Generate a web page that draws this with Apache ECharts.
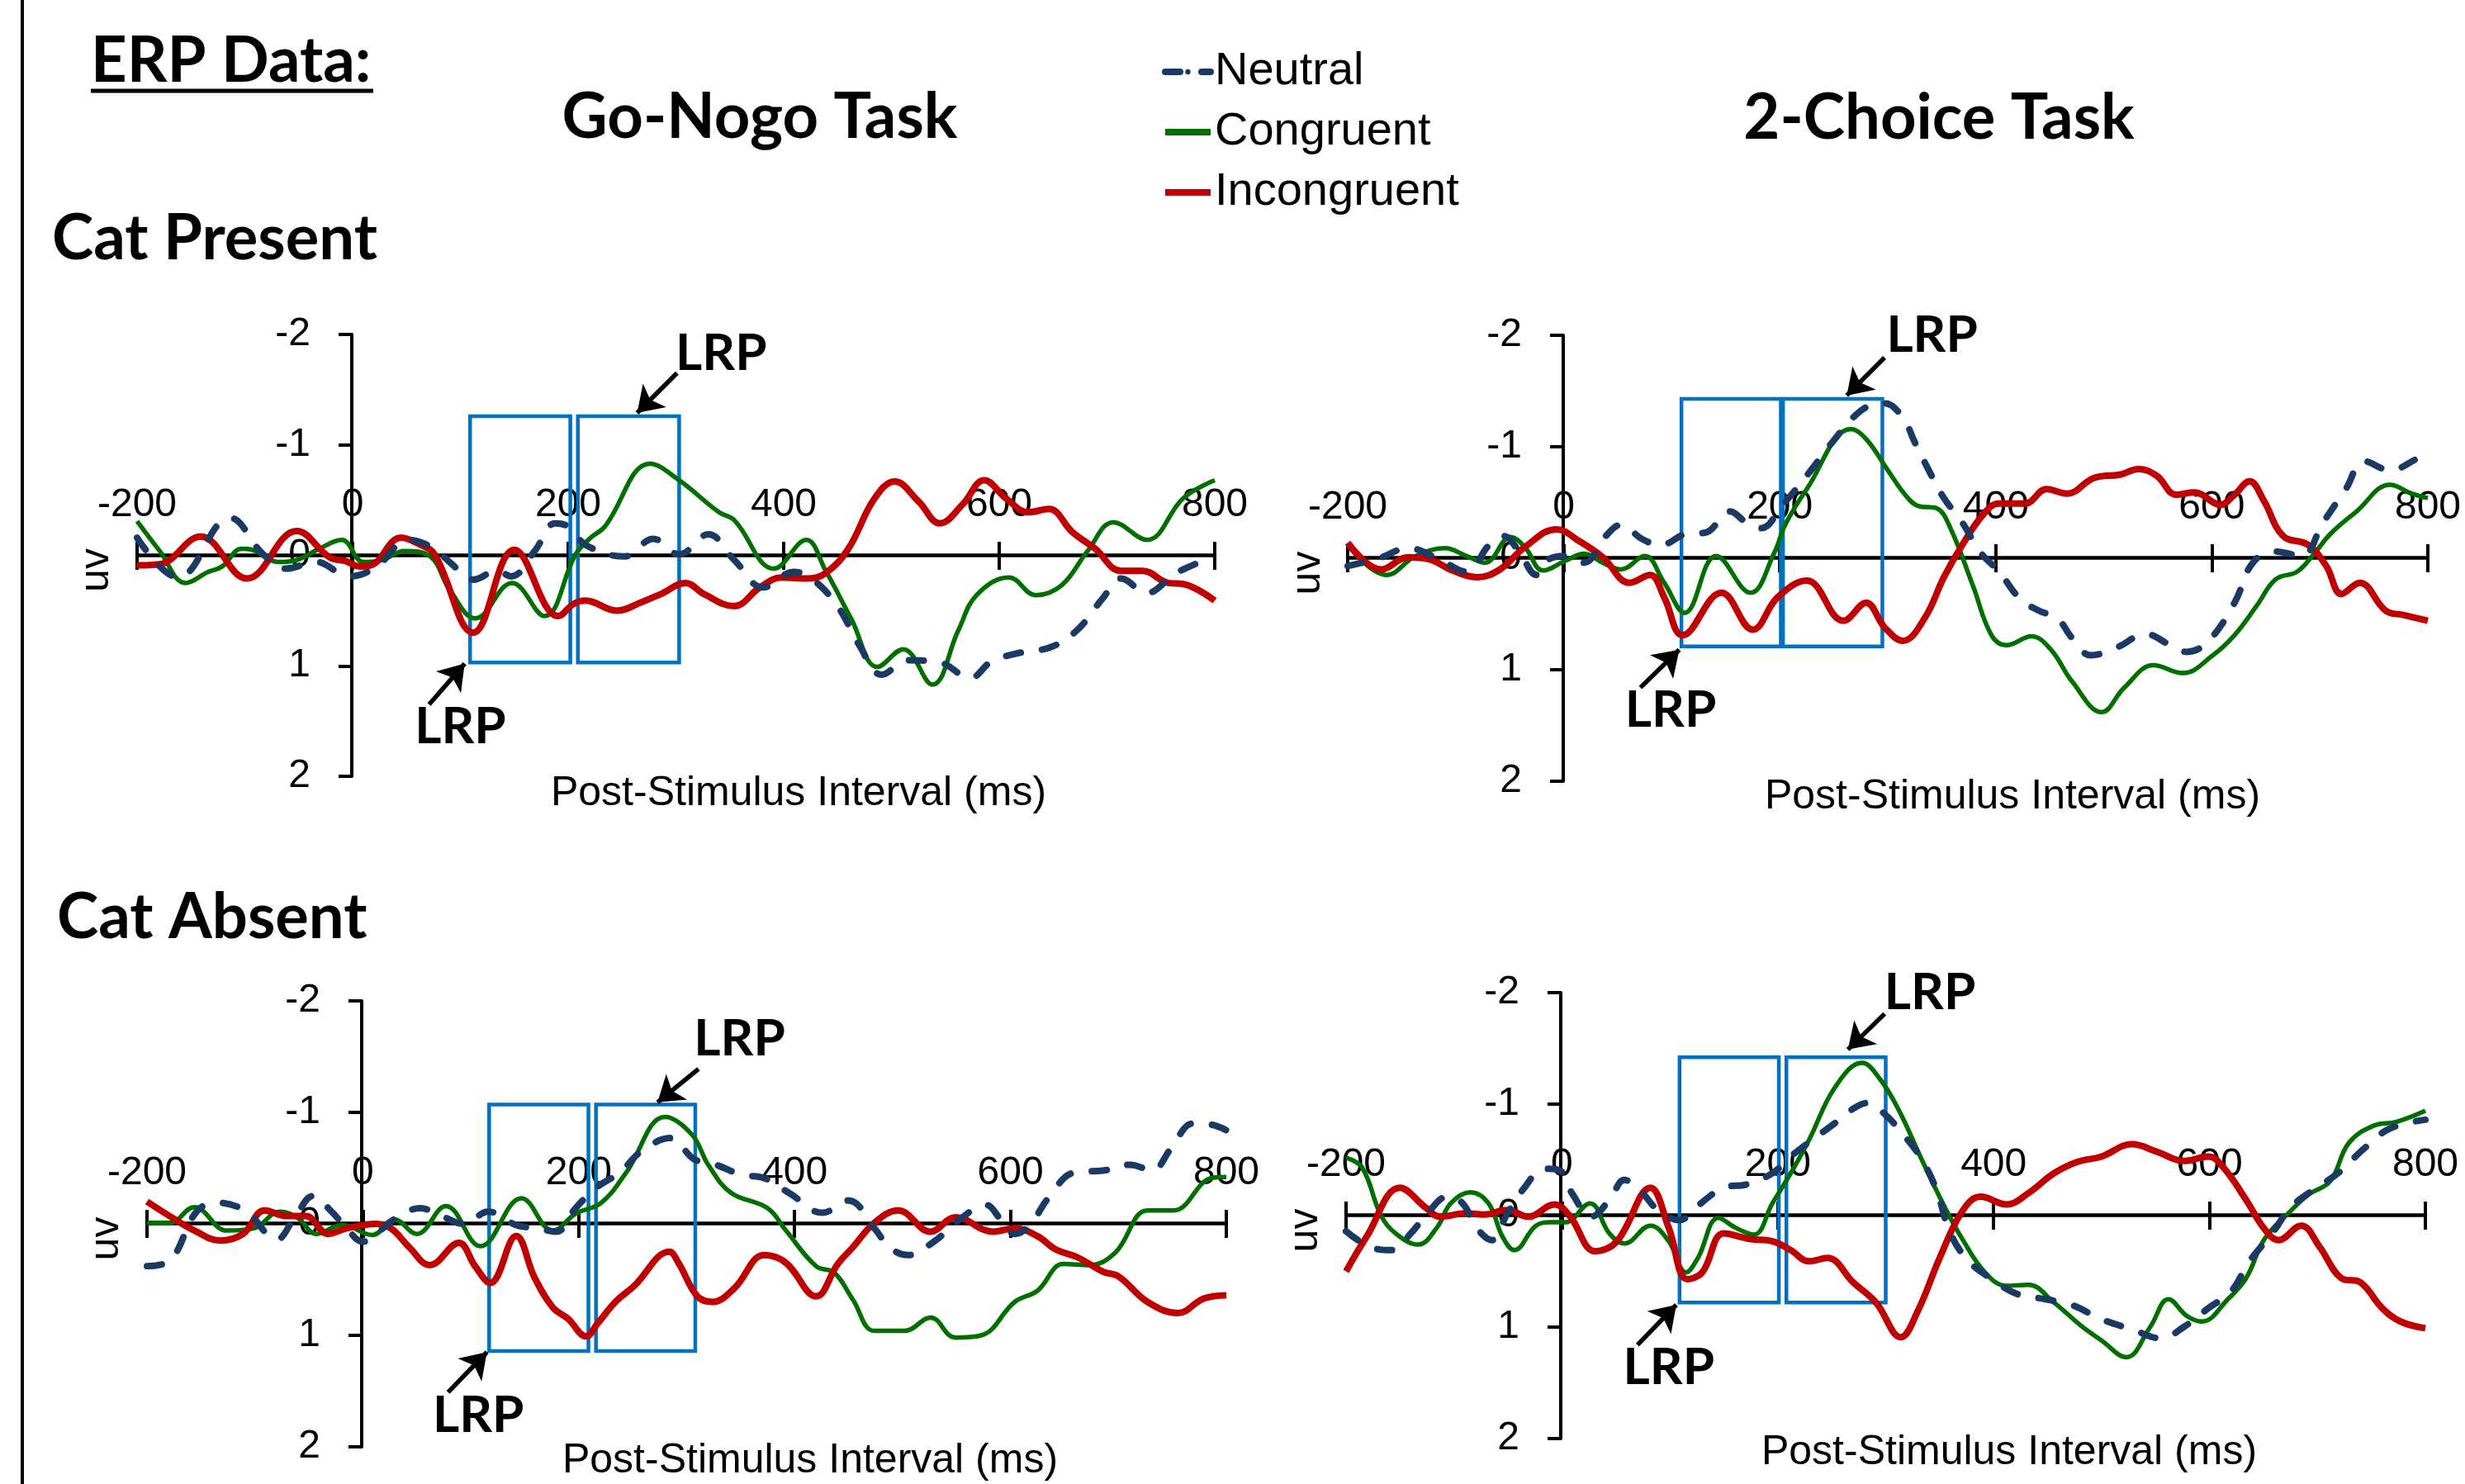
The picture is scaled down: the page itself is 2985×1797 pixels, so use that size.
<!DOCTYPE html>
<html>
<head>
<meta charset="utf-8">
<script src="https://cdn.jsdelivr.net/npm/echarts@6/dist/echarts.min.js"></script>
<style>
  html, body { margin: 0; padding: 0; background: #fff; }
  #chart { width: 2985px; height: 1797px; }
</style>
</head>
<body>
<div id="chart"></div>
<script>
// time (ms) and amplitude (uV), kept at the turning points
const xTicks = [-200, 0, 200, 400, 600, 800];
const yTicks = [-2, -1, 0, 1, 2];
const legendNames = ['Neutral', 'Congruent', 'Incongruent'];

// Go-Nogo task, cat present
const p1Neutral = [[-200,-0.16],[-162,0.20],[-114,-0.34],[-83,-0.01],[-62,0.12],[-34,0.06],[-3,0.19],[21,0.11],[52,-0.14],[76,-0.06],[90,0.06],[112,0.22],[134,0.14],[147,0.19],[169,-0.04],[188,-0.29],[200,-0.26],[217,-0.09],[252,0.01],[279,-0.15],[303,-0.01],[330,-0.19],[354,0.04],[381,0.29],[409,0.15],[426,0.21],[450,0.46],[470,0.81],[491,1.08],[515,0.95],[545,0.97],[573,1.11],[593,0.96],[620,0.88],[648,0.83],[672,0.68],[696,0.39],[713,0.21],[737,0.34],[764,0.16],[800,0.01]];
const p1Congruent = [[-200,-0.31],[-179,-0.04],[-155,0.25],[-134,0.15],[-121,0.10],[-103,-0.06],[-93,-0.05],[-69,0.06],[-55,0.05],[-31,-0.06],[-10,-0.14],[10,0.06],[28,0.04],[48,-0.04],[72,0.01],[90,0.31],[114,0.57],[148,0.25],[178,0.55],[207,-0.01],[221,-0.16],[234,-0.26],[276,-0.83],[303,-0.68],[340,-0.39],[354,-0.32],[391,0.12],[421,-0.14],[439,0.14],[463,0.58],[487,1.01],[511,0.85],[538,1.17],[562,0.68],[579,0.36],[609,0.20],[634,0.36],[658,0.27],[682,-0.04],[706,-0.30],[737,-0.14],[771,-0.52],[800,-0.68]];
const p1Incongruent = [[-200,0.09],[-179,0.08],[-141,-0.17],[-98,0.21],[-52,-0.22],[-21,0.02],[-7,0.05],[7,0.10],[17,0.09],[45,-0.16],[62,-0.10],[76,-0.01],[112,0.70],[150,-0.05],[191,0.55],[205,0.44],[216,0.41],[245,0.50],[269,0.42],[286,0.35],[309,0.25],[326,0.35],[354,0.46],[378,0.29],[398,0.20],[422,0.21],[439,0.16],[460,-0.06],[484,-0.51],[503,-0.67],[525,-0.49],[545,-0.29],[566,-0.46],[586,-0.68],[607,-0.51],[627,-0.39],[646,-0.42],[668,-0.21],[689,-0.06],[713,0.14],[733,0.14],[757,0.25],[771,0.26],[800,0.41]];
const p1Boxes = [[[109,-1.26],[202,0.97]], [[209,-1.26],[303,0.97]]];
const p1Arrows = [[[301,-1.65],[264,-1.29]], [[71,1.35],[104,0.98]]];
const p1Labels = [[342,-1.83], [100,1.55]];

// 2-Choice task, cat present
const p2Neutral = [[-200,0.07],[-171,0.00],[-144,-0.09],[-117,0.00],[-90,0.12],[-69,-0.12],[-56,-0.20],[-42,-0.07],[-25,0.15],[-12,0.00],[5,-0.02],[19,0.04],[39,-0.20],[53,-0.30],[73,-0.17],[90,-0.12],[114,-0.22],[131,-0.23],[154,-0.42],[168,-0.33],[183,-0.27],[202,-0.47],[229,-0.79],[246,-1.01],[276,-1.33],[297,-1.39],[314,-1.26],[325,-1.04],[339,-0.77],[352,-0.54],[369,-0.32],[386,-0.05],[403,0.12],[423,0.37],[440,0.47],[457,0.54],[471,0.72],[488,0.87],[512,0.80],[539,0.68],[560,0.77],[577,0.84],[597,0.74],[621,0.40],[638,0.04],[659,-0.06],[683,-0.02],[703,-0.32],[724,-0.62],[741,-0.87],[765,-0.79],[792,-0.90],[800,-0.92]];
const p2Congruent = [[-200,-0.12],[-164,0.15],[-137,-0.02],[-110,-0.09],[-90,-0.02],[-73,0.04],[-49,-0.19],[-36,-0.10],[-19,0.11],[2,0.02],[19,-0.04],[36,0.04],[53,0.10],[75,-0.02],[93,0.22],[112,0.49],[141,-0.02],[173,0.31],[195,-0.05],[205,-0.30],[225,-0.62],[266,-1.16],[280,-1.07],[300,-0.79],[316,-0.57],[328,-0.47],[345,-0.45],[358,-0.27],[379,0.25],[396,0.69],[410,0.78],[433,0.70],[451,0.82],[471,1.11],[498,1.38],[519,1.16],[546,0.96],[573,1.03],[601,0.87],[621,0.69],[642,0.42],[659,0.19],[679,0.12],[693,-0.02],[710,-0.22],[734,-0.42],[765,-0.66],[785,-0.58],[800,-0.54]];
const p2Incongruent = [[-200,-0.14],[-169,0.10],[-144,-0.01],[-124,0.01],[-103,0.11],[-80,0.17],[-59,0.10],[-36,-0.10],[-7,-0.26],[15,-0.15],[36,-0.01],[61,0.22],[80,0.15],[93,0.35],[110,0.69],[146,0.31],[175,0.64],[198,0.35],[225,0.20],[259,0.56],[280,0.40],[297,0.62],[314,0.74],[334,0.54],[352,0.17],[369,-0.12],[389,-0.40],[403,-0.49],[427,-0.49],[447,-0.62],[466,-0.58],[491,-0.72],[515,-0.75],[532,-0.80],[549,-0.74],[567,-0.57],[584,-0.59],[608,-0.48],[621,-0.57],[635,-0.69],[648,-0.52],[666,-0.20],[689,-0.12],[706,0.07],[720,0.32],[737,0.22],[761,0.47],[778,0.51],[800,0.56]];
const p2Boxes = [[[109,-1.43],[201,0.79]], [[203,-1.43],[295,0.79]]];
const p2Arrows = [[[297,-1.80],[262,-1.46]], [[71,1.16],[107,0.82]]];
const p2Labels = [[341,-2.0], [99,1.36]];

// Go-Nogo task, cat absent
const p3Neutral = [[-200,0.38],[-179,0.33],[-154,-0.11],[-135,-0.19],[-108,-0.11],[-80,0.14],[-63,-0.06],[-46,-0.25],[-29,-0.11],[-15,0.04],[0,0.16],[12,0.09],[32,-0.06],[53,-0.14],[73,-0.07],[94,0.00],[116,-0.11],[142,0.01],[162,0.04],[179,0.07],[197,-0.14],[217,-0.33],[238,-0.46],[258,-0.65],[285,-0.77],[307,-0.58],[327,-0.53],[351,-0.44],[372,-0.41],[396,-0.27],[426,-0.10],[450,-0.21],[474,0.04],[488,0.21],[505,0.28],[529,0.16],[553,-0.04],[577,-0.17],[591,-0.04],[604,0.09],[618,0.01],[635,-0.23],[659,-0.46],[687,-0.48],[711,-0.53],[731,-0.48],[749,-0.68],[769,-0.90],[786,-0.89],[800,-0.84]];
const p3Congruent = [[-200,-0.01],[-179,-0.01],[-156,-0.15],[-126,0.06],[-101,0.04],[-77,-0.11],[-60,-0.05],[-43,0.09],[-19,0.01],[9,0.10],[29,-0.04],[50,0.09],[77,-0.16],[109,0.20],[147,-0.23],[176,0.06],[197,-0.09],[221,-0.19],[244,-0.46],[280,-0.96],[305,-0.80],[320,-0.53],[341,-0.28],[375,-0.14],[392,0.06],[420,0.38],[437,0.44],[454,0.68],[474,0.96],[502,0.96],[526,0.84],[549,1.02],[573,1.00],[604,0.70],[625,0.60],[649,0.36],[673,0.37],[697,0.26],[727,-0.12],[751,-0.12],[786,-0.41],[800,-0.42]];
const p3Incongruent = [[-200,-0.20],[-179,-0.07],[-156,0.06],[-132,0.15],[-111,0.09],[-91,-0.12],[-70,-0.07],[-53,-0.07],[-32,0.09],[-15,0.04],[12,0.00],[26,0.04],[43,0.21],[62,0.37],[89,0.17],[104,0.38],[118,0.53],[142,0.11],[159,0.48],[176,0.75],[190,0.85],[207,1.01],[217,0.90],[234,0.70],[251,0.56],[284,0.25],[293,0.36],[310,0.65],[324,0.70],[344,0.58],[372,0.28],[392,0.35],[420,0.65],[440,0.36],[454,0.21],[474,-0.01],[496,-0.12],[526,0.07],[549,-0.06],[584,0.07],[604,0.04],[625,0.11],[642,0.23],[662,0.30],[686,0.43],[700,0.47],[727,0.70],[755,0.80],[779,0.67],[800,0.64]];
const p3Boxes = [[[117,-1.07],[209,1.14]], [[216,-1.07],[308,1.14]]];
const p3Arrows = [[[311,-1.39],[273,-1.09]], [[79,1.51],[115,1.15]]];
const p3Labels = [[349,-1.66], [107,1.72]];

// 2-Choice task, cat absent
const p4Neutral = [[-200,0.14],[-178,0.28],[-157,0.31],[-140,0.16],[-123,-0.04],[-106,-0.17],[-92,-0.11],[-79,0.11],[-65,0.22],[-51,-0.01],[-34,-0.26],[-17,-0.42],[-3,-0.41],[10,-0.19],[27,0.01],[44,-0.14],[58,-0.32],[72,-0.23],[89,-0.05],[109,0.04],[126,-0.09],[150,-0.25],[171,-0.28],[195,-0.38],[212,-0.53],[232,-0.68],[253,-0.83],[270,-0.96],[283,-1.01],[298,-0.92],[316,-0.73],[333,-0.51],[347,-0.23],[360,0.16],[377,0.41],[397,0.56],[421,0.70],[448,0.75],[472,0.80],[500,0.93],[528,1.02],[555,1.10],[576,1.00],[599,0.83],[620,0.68],[637,0.41],[658,0.16],[675,-0.07],[696,-0.23],[719,-0.38],[743,-0.60],[767,-0.78],[800,-0.86]];
const p4Congruent = [[-200,-0.52],[-185,-0.43],[-168,-0.01],[-154,0.16],[-133,0.26],[-116,0.11],[-103,-0.11],[-85,-0.21],[-68,-0.11],[-55,0.19],[-44,0.31],[-24,0.09],[-10,0.06],[3,0.06],[26,-0.11],[44,0.16],[58,0.25],[82,0.09],[99,0.23],[115,0.51],[126,0.38],[145,0.02],[161,0.11],[178,0.17],[195,-0.11],[212,-0.38],[229,-0.68],[253,-1.15],[278,-1.37],[295,-1.22],[313,-0.93],[333,-0.51],[354,-0.09],[371,0.21],[392,0.51],[412,0.63],[432,0.62],[456,0.78],[480,0.98],[500,1.12],[523,1.27],[545,1.00],[562,0.75],[579,0.90],[593,0.95],[617,0.75],[634,0.56],[651,0.21],[675,-0.04],[692,-0.19],[712,-0.31],[729,-0.65],[753,-0.81],[773,-0.84],[800,-0.94]];
const p4Incongruent = [[-200,0.50],[-181,0.19],[-150,-0.25],[-126,-0.07],[-113,0.01],[-89,-0.02],[-72,-0.01],[-51,-0.05],[-31,0.01],[-7,-0.10],[7,0.00],[31,0.32],[51,0.23],[82,-0.25],[99,0.11],[116,0.57],[130,0.51],[150,0.16],[174,0.21],[195,0.23],[212,0.31],[229,0.41],[246,0.38],[270,0.60],[291,0.78],[314,1.09],[330,0.85],[350,0.38],[371,-0.04],[388,-0.17],[412,-0.10],[432,-0.20],[456,-0.38],[477,-0.48],[500,-0.53],[528,-0.64],[552,-0.57],[576,-0.49],[599,-0.53],[613,-0.43],[634,-0.14],[651,0.12],[664,0.22],[685,0.09],[702,0.28],[722,0.56],[740,0.60],[760,0.83],[777,0.95],[800,1.01]];
const p4Boxes = [[[109,-1.42],[201,0.78]], [[208,-1.42],[300,0.78]]];
const p4Arrows = [[[299,-1.81],[265,-1.49]], [[70,1.16],[106,0.80]]];
const p4Labels = [[341,-2.0], [99,1.36]];

const panels = [
    {neutral: p1Neutral, congruent: p1Congruent, incongruent: p1Incongruent, boxes: p1Boxes, arrows: p1Arrows, labels: p1Labels},
    {neutral: p2Neutral, congruent: p2Congruent, incongruent: p2Incongruent, boxes: p2Boxes, arrows: p2Arrows, labels: p2Labels},
    {neutral: p3Neutral, congruent: p3Congruent, incongruent: p3Incongruent, boxes: p3Boxes, arrows: p3Arrows, labels: p3Labels},
    {neutral: p4Neutral, congruent: p4Congruent, incongruent: p4Incongruent, boxes: p4Boxes, arrows: p4Arrows, labels: p4Labels}
];

// plot boxes in pixels (x from -200 to 800, y from -2 to 2)
const plotBoxes = [
    {left: 166, top: 405, width: 1305, height: 535},
    {left: 1632, top: 406, width: 1308, height: 540},
    {left: 178, top: 1212, width: 1307, height: 540},
    {left: 1630, top: 1202, width: 1307, height: 540}
];

const axisFont = 'Liberation Sans, Arial, sans-serif';
const boldFont = 'Lato, "Open Sans", sans-serif';
const NAVY = '#1B3A63', GREEN = '#006F00', RED = '#C00000', BOX = '#0070C0';
const xMin = xTicks[0], xMax = xTicks[xTicks.length - 1];
const yMin = yTicks[0], yMax = yTicks[yTicks.length - 1];
const n = plotBoxes.length;

let grids = [], xAxes = [], yAxes = [], series = [];

// grids 0..3 hold the traces, 4..7 are thin strips on y = 0 (drawn x axes),
// 8..11 are thin strips on x = 0 (drawn y axes). Axes that sit "on zero" get
// their labels moved to the grid edge in this version, hence the strips.
plotBoxes.forEach((g, i) => {
    grids[i] = Object.assign({outerBoundsMode: 'none', containLabel: false}, g);
    const zeroY = Math.round(g.top + g.height * (0 - yMin) / (yMax - yMin));
    grids[n + i] = {outerBoundsMode: 'none', containLabel: false, left: g.left, width: g.width, top: zeroY - 1, height: 2};
    const zeroX = Math.round(g.left + g.width * (0 - xMin) / (xMax - xMin));
    grids[2 * n + i] = {outerBoundsMode: 'none', containLabel: false, left: zeroX - 1, width: 2, top: g.top, height: g.height};
});

// trace grids: both axes hidden
plotBoxes.forEach((g, i) => {
    xAxes.push({gridIndex: i, type: 'value', min: xMin, max: xMax, interval: 200, show: false});
    yAxes.push({gridIndex: i, type: 'value', min: yMin, max: yMax, interval: 1, inverse: true, show: false});

    const p = panels[i];
    const common = {type: 'line', xAxisIndex: i, yAxisIndex: i, smooth: 0.4, symbol: 'none', silent: true};
    series.push(Object.assign({}, common, {
        name: 'Congruent', data: p.congruent,
        lineStyle: {color: GREEN, width: 5.5}, itemStyle: {color: GREEN}
    }));
    series.push(Object.assign({}, common, {
        name: 'Incongruent', data: p.incongruent,
        lineStyle: {color: RED, width: 8}, itemStyle: {color: RED}
    }));
    series.push(Object.assign({}, common, {
        name: 'Neutral', data: p.neutral,
        lineStyle: {color: NAVY, width: 8, type: [18, 26], cap: 'round'}, itemStyle: {color: NAVY},
        markArea: {
            silent: true, z: 3,
            itemStyle: {color: 'rgba(0,0,0,0)', borderColor: BOX, borderWidth: 4.5},
            label: {show: false},
            data: p.boxes.map(b => [{coord: b[0]}, {coord: b[1]}])
        },
        markLine: {
            silent: true, animation: false,
            symbol: ['none', 'arrow'], symbolSize: 30,
            lineStyle: {color: '#000', width: 5.5, type: 'solid'},
            label: {show: false},
            data: p.arrows.map(a => [{coord: a[0]}, {coord: a[1]}])
        },
        markPoint: {
            silent: true, animation: false,
            symbol: 'circle', symbolSize: 1, itemStyle: {color: 'rgba(0,0,0,0)'},
            label: {show: true, position: 'inside', formatter: 'LRP', fontSize: 62, fontWeight: 'bold', fontFamily: boldFont, color: '#000'},
            data: p.labels.map(c => ({coord: c}))
        }
    }));
});

// x axes on the zero strips: upper half of the cross ticks with labels, then the lower half
plotBoxes.forEach((g, i) => {
    xAxes.push({
        gridIndex: n + i, type: 'value', min: xMin, max: xMax, interval: 200,
        position: 'top',
        axisLine: {onZero: false, lineStyle: {color: '#000', width: 4.5}},
        axisTick: {show: true, length: 16, lineStyle: {color: '#000', width: 4}},
        axisLabel: {fontSize: 48, color: '#000', fontFamily: axisFont, margin: 36, showMinLabel: true, showMaxLabel: true},
        splitLine: {show: false}
    });
    xAxes.push({
        gridIndex: n + i, type: 'value', min: xMin, max: xMax, interval: 200,
        position: 'bottom',
        axisLine: {show: false, onZero: false},
        axisTick: {show: true, length: 16, lineStyle: {color: '#000', width: 4}},
        axisLabel: {show: false},
        splitLine: {show: false}
    });
    yAxes.push({gridIndex: n + i, type: 'value', min: 0, max: 1, show: false});
});

// y axes on the x = 0 strips
plotBoxes.forEach((g, i) => {
    xAxes.push({gridIndex: 2 * n + i, type: 'value', min: 0, max: 1, show: false});
    yAxes.push({
        gridIndex: 2 * n + i, type: 'value', min: yMin, max: yMax, interval: 1,
        inverse: true, position: 'left',
        axisLine: {show: true, onZero: false, lineStyle: {color: '#000', width: 4}},
        axisTick: {show: true, length: 16, lineStyle: {color: '#000', width: 4}},
        axisLabel: {fontSize: 48, color: '#000', fontFamily: axisFont, margin: 50},
        splitLine: {show: false},
        name: 'uv', nameLocation: 'middle', nameRotate: 90, nameGap: 284,
        nameTextStyle: {fontSize: 50, color: '#000', fontFamily: axisFont, padding: [0, 36, 0, 0]}
    });
});

function txt(text, x, y, font, align) {
    return {
        type: 'text', x: x, y: y, silent: true, z: 10,
        style: {text: text, font: font, fill: '#000', align: align || 'left', verticalAlign: 'middle',
                textAlign: align || 'left', textVerticalAlign: 'middle'}
    };
}
const headFont = 'bold 76px ' + boldFont;
const nameFont = '50px ' + axisFont;

const option = {
    animation: false,
    backgroundColor: '#fff',
    grid: grids,
    xAxis: xAxes,
    yAxis: yAxes,
    legend: {
        data: legendNames, orient: 'vertical', left: 1407, top: 57, padding: 0,
        itemWidth: 55, itemHeight: 8, itemGap: 13,
        lineStyle: {width: 8},
        textStyle: {fontSize: 56, fontFamily: axisFont, color: '#000', lineHeight: 60},
        selectedMode: false
    },
    graphic: [
        {type: 'line', silent: true, shape: {x1: 27, y1: 0, x2: 27, y2: 1797}, style: {stroke: '#000', lineWidth: 4}},
        txt('ERP Data:', 110, 74, headFont),
        {type: 'line', silent: true, shape: {x1: 110, y1: 110, x2: 452, y2: 110}, style: {stroke: '#000', lineWidth: 5}},
        txt('Go-Nogo Task', 920, 142, headFont, 'center'),
        txt('2-Choice Task', 2348, 143, headFont, 'center'),
        txt('Cat Present', 63, 289, headFont),
        txt('Cat Absent', 69, 1111, headFont),
        txt('Post-Stimulus Interval (ms)', 967, 961, nameFont, 'center'),
        txt('Post-Stimulus Interval (ms)', 2437, 965, nameFont, 'center'),
        txt('Post-Stimulus Interval (ms)', 981, 1769, nameFont, 'center'),
        txt('Post-Stimulus Interval (ms)', 2433, 1759, nameFont, 'center')
    ],
    series: series
};

const chart = echarts.init(document.getElementById('chart'));
chart.setOption(option);
</script>
</body>
</html>
